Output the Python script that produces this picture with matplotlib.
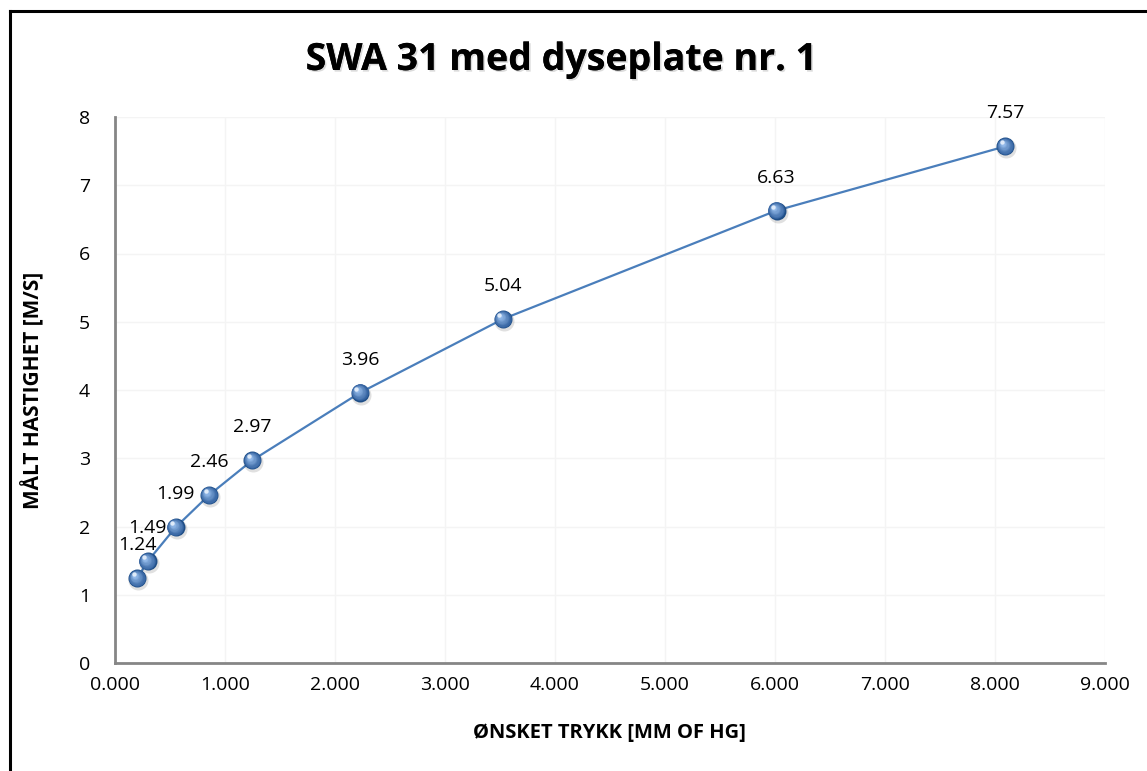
import matplotlib
matplotlib.use("Agg")
import matplotlib.pyplot as plt
import matplotlib.transforms as mtransforms
from matplotlib.lines import Line2D
import matplotlib.patheffects as pe
import numpy as np

plt.rcParams['font.family'] = ['Open Sans', 'DejaVu Sans']

# Measured data
pressure = [0.202, 0.297, 0.552, 0.855, 1.248, 2.227, 3.527, 6.015, 8.094]
velocity = [1.24, 1.49, 1.99, 2.46, 2.97, 3.96, 5.04, 6.63, 7.57]
x_ticks = [0, 1, 2, 3, 4, 5, 6, 7, 8, 9]
y_ticks = [0, 1, 2, 3, 4, 5, 6, 7, 8]

title = "SWA 31 med dyseplate nr. 1"
x_label = "ØNSKET TRYKK [MM OF HG]"
y_label = "MÅLT HASTIGHET [M/S]"

W, H = 1147, 771
fig = plt.figure(figsize=(W / 100, H / 100), dpi=100)
fig.patch.set_facecolor("white")

ax = fig.add_axes([115 / W, 1 - 663 / H, (1105 - 115) / W, (663 - 117) / H])
ax.set_xlim(0, 9)
ax.set_ylim(0, 8)
ax.set_xticks(x_ticks)
ax.set_yticks(y_ticks)
ax.set_xticklabels([f"{v:.3f}" for v in x_ticks])
ax.set_yticklabels([str(v) for v in y_ticks])
ax.tick_params(axis="both", length=0, labelsize=14, pad=9)
ax.tick_params(axis="y", pad=18)
ax.grid(True, color="#f4f4f4", linewidth=1)
ax.set_axisbelow(True)
for side in ("top", "right"):
    ax.spines[side].set_visible(False)
for side in ("left", "bottom"):
    ax.spines[side].set_color("#868686")
    ax.spines[side].set_linewidth(2)

# Connecting line
ax.plot(pressure, velocity, color="#4a7ebb", linewidth=1.6, zorder=3)

# Glossy sphere markers: shadow + layered gradient + highlight
def px_offset(dx, dy):
    return ax.transData + mtransforms.ScaledTranslation(dx / 100, dy / 100, fig.dpi_scale_trans)

r = 9.0  # radius in pixels
pt = 72 / 100
ax.scatter(pressure, velocity, s=(2 * (r + 1.0) * pt) ** 2, color="#000000", alpha=0.12,
           transform=px_offset(1.0, -2.0), zorder=4, linewidths=0)
ax.scatter(pressure, velocity, s=(2 * r * pt) ** 2, color="#1f4e86", zorder=5, linewidths=0)
n = 12
dark = np.array([0x2a, 0x5a, 0x99]) / 255
light = np.array([0x9c, 0xc2, 0xf0]) / 255
for i in range(1, n):
    f = i / n
    rad = r * (1 - 0.85 * f)
    col = dark * (1 - f) + light * f
    ax.scatter(pressure, velocity, s=(2 * rad * pt) ** 2, color=col, zorder=5 + i,
               transform=px_offset(-3.0 * f, 3.0 * f), linewidths=0)
ax.scatter(pressure, velocity, s=(2 * 2.2 * pt) ** 2, color="#e8f1fc", zorder=5 + n,
           transform=px_offset(-3.5, 4.0), linewidths=0, alpha=0.9)

# Value labels above each point
for xv, yv in zip(pressure, velocity):
    ax.annotate(f"{yv:.2f}", (xv, yv), xytext=(0, 33), textcoords="offset pixels",
                ha="center", va="center", fontsize=14, color="#000000", zorder=20)

# Axis titles
fig.text(609 / W, 1 - 733 / H, x_label, ha="center", va="center", fontsize=14.5,
         fontweight="bold")
fig.text(33 / W, 1 - 390 / H, y_label, ha="center", va="center", fontsize=15,
         fontweight="bold", rotation=90)

# Chart title with soft shadow
fig.text(561 / W, 1 - 60 / H, title, ha="center", va="center", fontsize=27,
         fontweight="bold",
         path_effects=[pe.withSimplePatchShadow(offset=(1.2, -1.2), shadow_rgbFace="#999999", alpha=0.35),
                       pe.Normal()])

# Outer frame (left and top edges)
fig.add_artist(Line2D([10 / W, 10 / W], [0, 1 - 11 / H], transform=fig.transFigure,
                      color="black", linewidth=2.2))
fig.add_artist(Line2D([10 / W, 1], [1 - 11 / H, 1 - 11 / H], transform=fig.transFigure,
                      color="black", linewidth=2.2))

fig.savefig("out.png", dpi=100)
